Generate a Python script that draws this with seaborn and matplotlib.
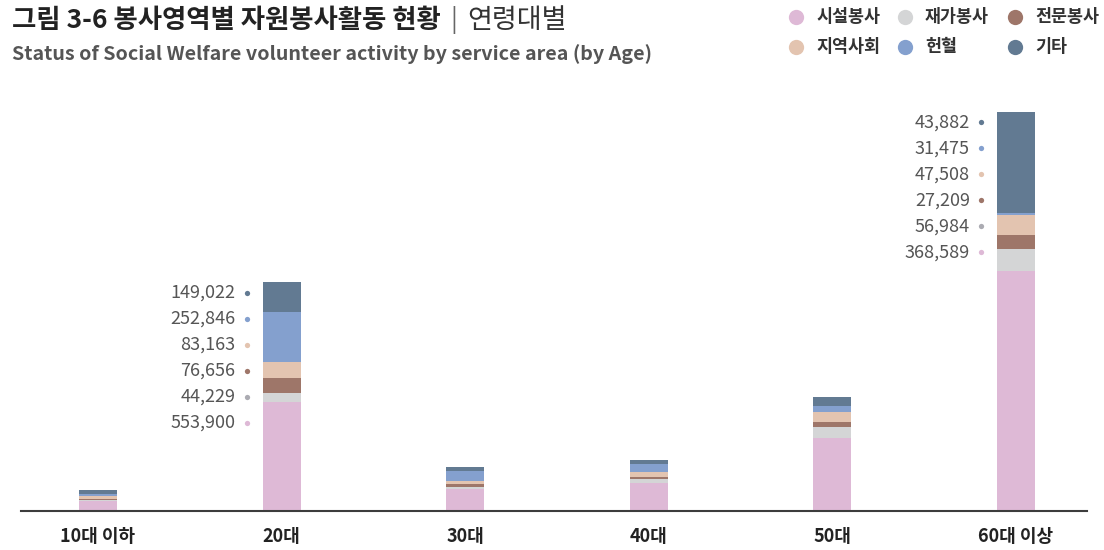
import matplotlib
matplotlib.use("Agg")
import matplotlib.pyplot as plt
from matplotlib.transforms import offset_copy
import pandas as pd
import seaborn as sns

# Categories
ages = ["10대 이하", "20대", "30대", "40대", "50대", "60대 이상"]
areas = ["시설봉사", "재가봉사", "전문봉사", "지역사회", "헌혈", "기타"]
colors = ["#DEB9D6", "#D4D5D6", "#9E7669", "#E3C4B0", "#84A0CE", "#627A92"]
dot_colors = ["#DEB9D6", "#ABABB2", "#9E7669", "#E3C4B0", "#84A0CE", "#627A92"]

# Volunteers per service area
facility = [51000, 553900, 110000, 141000, 368589, 1218000]
home = [5000, 44229, 10000, 20000, 56984, 112000]
expert = [5000, 76656, 17000, 12000, 27209, 71000]
community = [14000, 83163, 14000, 24000, 47508, 102000]
blood = [10000, 252846, 51000, 42000, 31475, 8500]
other = [20000, 149022, 22000, 19000, 43882, 515000]

# Value labels printed beside two of the bars (bottom -> top)
label_bars = ["20대", "60대 이상"]
label_texts = [
    ["553,900", "44,229", "76,656", "83,163", "252,846", "149,022"],
    ["368,589", "56,984", "27,209", "47,508", "31,475", "43,882"],
]

df = pd.DataFrame(
    dict(zip(areas, [facility, home, expert, community, blood, other])),
    index=ages,
)
cum = df.cumsum(axis=1)

sns.set_style("white")
plt.rcParams["font.family"] = ["Noto Sans CJK KR", "DejaVu Sans"]

W, H = 1104, 550
fig = plt.figure(figsize=(W / 100, H / 100), dpi=100)
ymax = 2.1e6
px_per_unit = 1 / 5082
base = 510.7
ax = fig.add_axes([21 / W, (H - base) / H, (1087 - 21) / W, ymax * px_per_unit / H])

bar_w = 0.207
# Stacked bars: draw cumulative totals from the top layer down
for area, color in reversed(list(zip(areas, colors))):
    sns.barplot(x=ages, y=cum[area].values, color=color, width=bar_w,
                saturation=1, linewidth=0, errorbar=None, ax=ax)

ax.set_xlim(-0.419, 5.387)
ax.set_ylim(0, ymax)
ax.set_yticks([])
ax.set_ylabel("")
sns.despine(ax=ax, left=True)
ax.spines["bottom"].set_color("#3d3d3d")
ax.spines["bottom"].set_linewidth(1.5)
ax.tick_params(axis="x", length=0, pad=12, labelsize=13, labelcolor="#222222")
for t in ax.get_xticklabels():
    t.set_fontweight("bold")

# Value labels with colored dots
for bar_name, texts in zip(label_bars, label_texts):
    i = ages.index(bar_name)
    top = df.loc[bar_name].sum()
    for k, (txt, c) in enumerate(zip(reversed(texts), reversed(dot_colors))):
        dy = -(10.5 + 26 * k)
        ax.text(i - bar_w / 2, top, txt, ha="right", va="center",
                fontsize=13, color="#555555",
                transform=offset_copy(ax.transData, fig, x=-27, y=dy, units="dots"))
        ax.plot(i - bar_w / 2, top, "o", ms=3.8, color=c, mec="none", clip_on=False,
                transform=offset_copy(ax.transData, fig, x=-16, y=dy, units="dots"))

# Title
t1 = fig.text(12 / W, 1 - 20.5 / H, "그림 3-6 봉사영역별 자원봉사활동 현황",
              fontsize=19, fontweight="bold", color="#222222", va="center", ha="left")
fig.canvas.draw()
ext = t1.get_window_extent()
fig.text((ext.x1 + 10) / W, 1 - 20.5 / H, "|", fontsize=18, color="#666666",
         va="center", ha="left")
fig.text((ext.x1 + 27) / W, 1 - 20.5 / H, "연령대별", fontsize=19.5,
         color="#333333", va="center", ha="left")
fig.text(12 / W, 1 - 54 / H,
         "Status of Social Welfare volunteer activity by service area (by Age)",
         fontsize=14.2, fontweight="bold", color="#555555", va="center", ha="left")

# Legend (row-wise, three columns)
leg_x = [796, 905, 1015]
leg_y = [17, 47]
for n, (area, color) in enumerate(zip(areas, colors)):
    cx = leg_x[n % 3]
    cy = leg_y[n // 3]
    fig.add_artist(plt.Line2D([cx / W], [1 - cy / H], marker="o", ms=11,
                              color=color, mec="none", transform=fig.transFigure))
    fig.text((cx + 20) / W, 1 - cy / H, area, fontsize=12.5, fontweight="bold",
             color="#333333", va="center", ha="left")

fig.savefig("out.png", dpi=100)
